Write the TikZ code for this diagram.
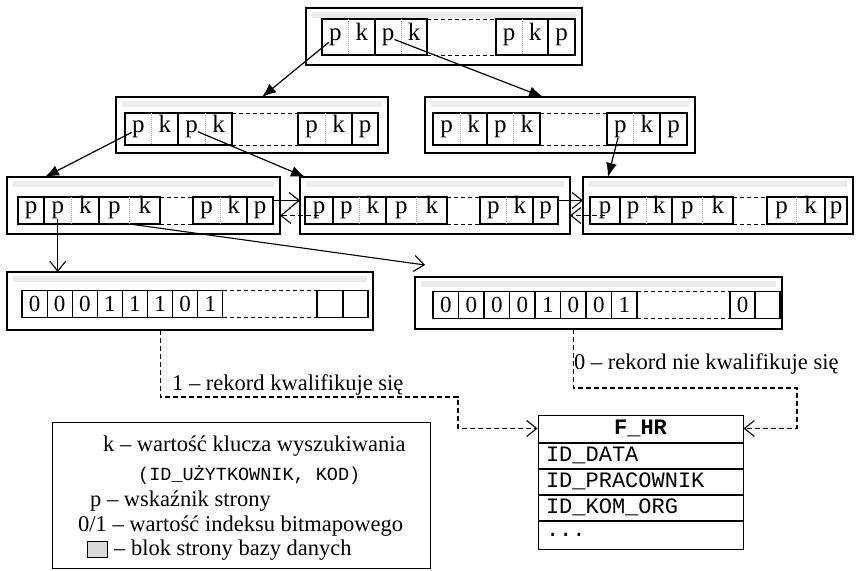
\documentclass[tikz,border=0pt]{standalone}
\usepackage{fontspec}
\setmainfont{Liberation Serif}
\setmonofont{Liberation Mono}
\usetikzlibrary{positioning,arrows.meta}

% p-only cell and p|k cell of an index page: name, x-left, x-right, y-top, y-bottom
\newcommand{\pcell}[5]{%
  \node[cell, minimum width={#3-#2}, minimum height={#5-#4}] (#1) at ({(#2+#3)/2},{(#4+#5)/2}) {p};}
\newcommand{\pkcell}[5]{%
  \node[cell, minimum width={#3-#2}, minimum height={#5-#4}] (#1) at ({(#2+#3)/2},{(#4+#5)/2}) {};
  \draw[divider] (#1.north) -- (#1.south);
  \node[lbl] (#1-p) at ({#2+(#3-#2)/4},{(#4+#5)/2}) {p};
  \node[lbl] (#1-k) at ({#3-(#3-#2)/4},{(#4+#5)/2}) {k};}

\begin{document}
\begin{tikzpicture}[x=1pt, y=-1pt, font=\fontsize{22.5}{27}\selectfont,
    page/.style={draw, line width=1.3pt, inner sep=0pt, outer sep=0pt,
      path picture={\fill[gray!16] ([xshift=6pt,yshift=-4pt]path picture bounding box.north west)
        rectangle ([xshift=-6pt,yshift=-10pt]path picture bounding box.north east);}},
    cell/.style={draw, fill=white, line width=1.1pt, inner sep=0pt, outer sep=0pt,
      text height=11.5pt, text depth=5.5pt, font=\fontsize{25}{29}\selectfont},
    lbl/.style={inner sep=0pt, text height=11.5pt, text depth=5.5pt, font=\fontsize{25}{29}\selectfont},
    bit/.style={draw, fill=white, line width=1.1pt, inner sep=0pt, outer sep=0pt, minimum height=27,
      text height=15.5pt, text depth=0pt, font=\fontsize{23}{27}\selectfont},
    divider/.style={densely dotted, gray!70, line width=1pt},
    gap/.style={dash pattern=on 4pt off 3pt, line width=1pt},
    tree/.style={line width=1.2pt, -{Latex[length=14pt,width=11pt]}},
    link/.style={line width=1.1pt, -{Straight Barb[length=10pt,width=16pt]}},
    dashlink/.style={line width=1.1pt, dash pattern=on 5pt off 3pt, -{Straight Barb[length=10pt,width=16pt]}},
    txt/.style={anchor=west, inner sep=0pt},
    tblhead/.style={draw, line width=1pt, minimum width=205, minimum height=27, inner sep=0pt,
      font=\fontsize{22}{26}\selectfont\ttfamily\bfseries},
    tblrow/.style={draw, line width=1pt, text width=189pt, inner xsep=8pt, inner ysep=0pt,
      minimum height=25, align=left, font=\fontsize{22}{26}\selectfont\ttfamily}]
  \useasboundingbox (0,0) rectangle (856,570);

  % Root page
  \node[page, minimum width=276, minimum height=57] (root) at (444,36.5) {};
  \pkcell{root-1}{322}{375}{19}{55}
  \pkcell{root-2}{375}{427}{19}{55}
  \pkcell{root-3}{496}{548}{19}{55}
  \pcell{root-4}{548}{575}{19}{55}
  \draw[gap] (root-2.north east) -- (root-3.north west) (root-2.south east) -- (root-3.south west);

  % Inner pages
  \node[page, minimum width=272, minimum height=56] (inA) at (252,125) {};
  \pkcell{inA-1}{125}{178}{113}{145}
  \pkcell{inA-2}{178}{232}{113}{145}
  \pkcell{inA-3}{298}{352}{113}{145}
  \pcell{inA-4}{352}{378}{113}{145}
  \draw[gap] (inA-2.north east) -- (inA-3.north west) (inA-2.south east) -- (inA-3.south west);

  \node[page, minimum width=270, minimum height=56] (inB) at (560,125) {};
  \pkcell{inB-1}{433}{487}{113}{145}
  \pkcell{inB-2}{487}{540}{113}{145}
  \pkcell{inB-3}{607}{660}{113}{145}
  \pcell{inB-4}{660}{687}{113}{145}
  \draw[gap] (inB-2.north east) -- (inB-3.north west) (inB-2.south east) -- (inB-3.south west);

  % Leaf pages
  \node[page, minimum width=273, minimum height=57] (lfA) at (143.5,205.5) {};
  \pcell{lfA-1}{18}{44}{197}{224}
  \pkcell{lfA-2}{44}{99}{197}{224}
  \pkcell{lfA-3}{99}{160}{197}{224}
  \pkcell{lfA-4}{193}{247}{197}{224}
  \pcell{lfA-5}{247}{273}{197}{224}
  \draw[gap] (lfA-3.north east) -- (lfA-4.north west) (lfA-3.south east) -- (lfA-4.south west);

  \node[page, minimum width=270, minimum height=57] (lfB) at (435,205.5) {};
  \pcell{lfB-1}{305}{333}{197}{224}
  \pkcell{lfB-2}{333}{386}{197}{224}
  \pkcell{lfB-3}{386}{447}{197}{224}
  \pkcell{lfB-4}{480}{533}{197}{224}
  \pcell{lfB-5}{533}{558}{197}{224}
  \draw[gap] (lfB-3.north east) -- (lfB-4.north west) (lfB-3.south east) -- (lfB-4.south west);

  \node[page, minimum width=270, minimum height=57] (lfC) at (718,205.5) {};
  \pcell{lfC-1}{590}{620}{197}{224}
  \pkcell{lfC-2}{620}{672}{197}{224}
  \pkcell{lfC-3}{672}{733}{197}{224}
  \pkcell{lfC-4}{767}{825}{197}{224}
  \pcell{lfC-5}{825}{847}{197}{224}
  \draw[gap] (lfC-3.north east) -- (lfC-4.north west) (lfC-3.south east) -- (lfC-4.south west);

  % Bitmap pages
  \node[page, minimum width=366, minimum height=58] (bmA) at (190,301) {};
  \foreach \v [count=\i] in {0,0,0,1,1,1,0,1}
    \node[bit, minimum width=25.1] (bmA-\i) at ({22+25.1*(\i-0.5)},304) {\v};
  \node[bit, minimum width=26] (bmA-9) at (330,304) {};
  \node[bit, minimum width=25] (bmA-10) at (355.5,304) {};
  \draw[gap] (bmA-8.north east) -- (bmA-9.north west) (bmA-8.south east) -- (bmA-9.south west);

  \node[page, minimum width=367, minimum height=52] (bmB) at (598.5,303) {};
  \foreach \v [count=\i] in {0,0,0,0,1,0,0,1}
    \node[bit, minimum width=25.5] (bmB-\i) at ({433+25.5*(\i-0.5)},305) {\v};
  \node[bit, minimum width=25] (bmB-9) at (742.5,305) {0};
  \node[bit, minimum width=25] (bmB-10) at (767.5,305) {};
  \draw[gap] (bmB-8.north east) -- (bmB-9.north west) (bmB-8.south east) -- (bmB-9.south west);

  % Pointers down the tree
  \draw[tree] (root-1-p) -- ([xshift=10pt]inA.north);
  \draw[tree] (root-2-p) -- ([xshift=-17pt]inB.north);
  \draw[tree] (inA-1-p) -- ([xshift=38pt]lfA.north west);
  \draw[tree] (inA-2-p) -- ([xshift=5pt]lfB.north west);
  \draw[tree] (inB-3-p) -- ([xshift=25pt]lfC.north west);
  \draw[link] (lfA-2-p) -- (lfA-2-p |- bmA.north);
  \draw[link] (lfA-3.south) -- ([xshift=10pt,yshift=12pt]bmB.north west);

  % Links between neighbouring leaves
  \coordinate (ab) at ([yshift=10pt]lfA-5.east);
  \coordinate (ba) at ([yshift=-5pt]lfB-1.center);
  \coordinate (bc) at ([yshift=10pt]lfB-5.east);
  \coordinate (cb) at ([yshift=-5pt]lfC-1.center);
  \draw[link] (ab) -- (ab -| lfB.west);
  \draw[dashlink] (ba) -- (ba -| lfA.east);
  \draw[link] (bc) -- (bc -| lfC.west);
  \draw[dashlink] (cb) -- (cb -| lfB.east);

  % Fact table
  \node[tblhead] (fhr) at (640.5,428.5) {F\_HR};
  \node[tblrow, below=0pt of fhr] (fhr-1) {ID\_DATA};
  \node[tblrow, below=0pt of fhr-1] (fhr-2) {ID\_PRACOWNIK};
  \node[tblrow, below=0pt of fhr-2] (fhr-3) {ID\_KOM\_ORG};
  \node[tblrow, below=0pt of fhr-3, minimum height=28] (fhr-4) {...};

  % Bitmap values to the records
  \coordinate (k1) at (458,397);
  \coordinate (k2) at (797,388);
  \draw[dashlink] (bmA-6 |- bmA.south) |- (k1) |- (fhr.west);
  \draw[dashlink] (bmB-6 |- bmB.south) |- (k2) |- (fhr.east);
  \node[txt] (yes) at (172,385) {1 – rekord kwalifikuje się};
  \node[txt] (no) at (574,364) {0 – rekord nie kwalifikuje się};

  % Legend
  \node[draw, line width=1pt, minimum width=378, minimum height=146] (legend) at (241,495) {};
  \node[txt] (key-k) at (103,446) {k – wartość klucza wyszukiwania};
  \node[txt, font=\fontsize{18.5}{22}\selectfont\ttfamily] (key-id) at (138,475) {(ID\_UŻYTKOWNIK, KOD)};
  \node[txt] (key-p) at (90,501) {p – wskaźnik strony};
  \node[txt] (key-bit) at (78,526) {0/1 – wartość indeksu bitmapowego};
  \node[draw, fill=gray!30, line width=0.8pt, minimum width=20, minimum height=16] (key-icon) at (97,549) {};
  \node[txt] (key-page) at (114,550) {– blok strony bazy danych};
\end{tikzpicture}
\end{document}
